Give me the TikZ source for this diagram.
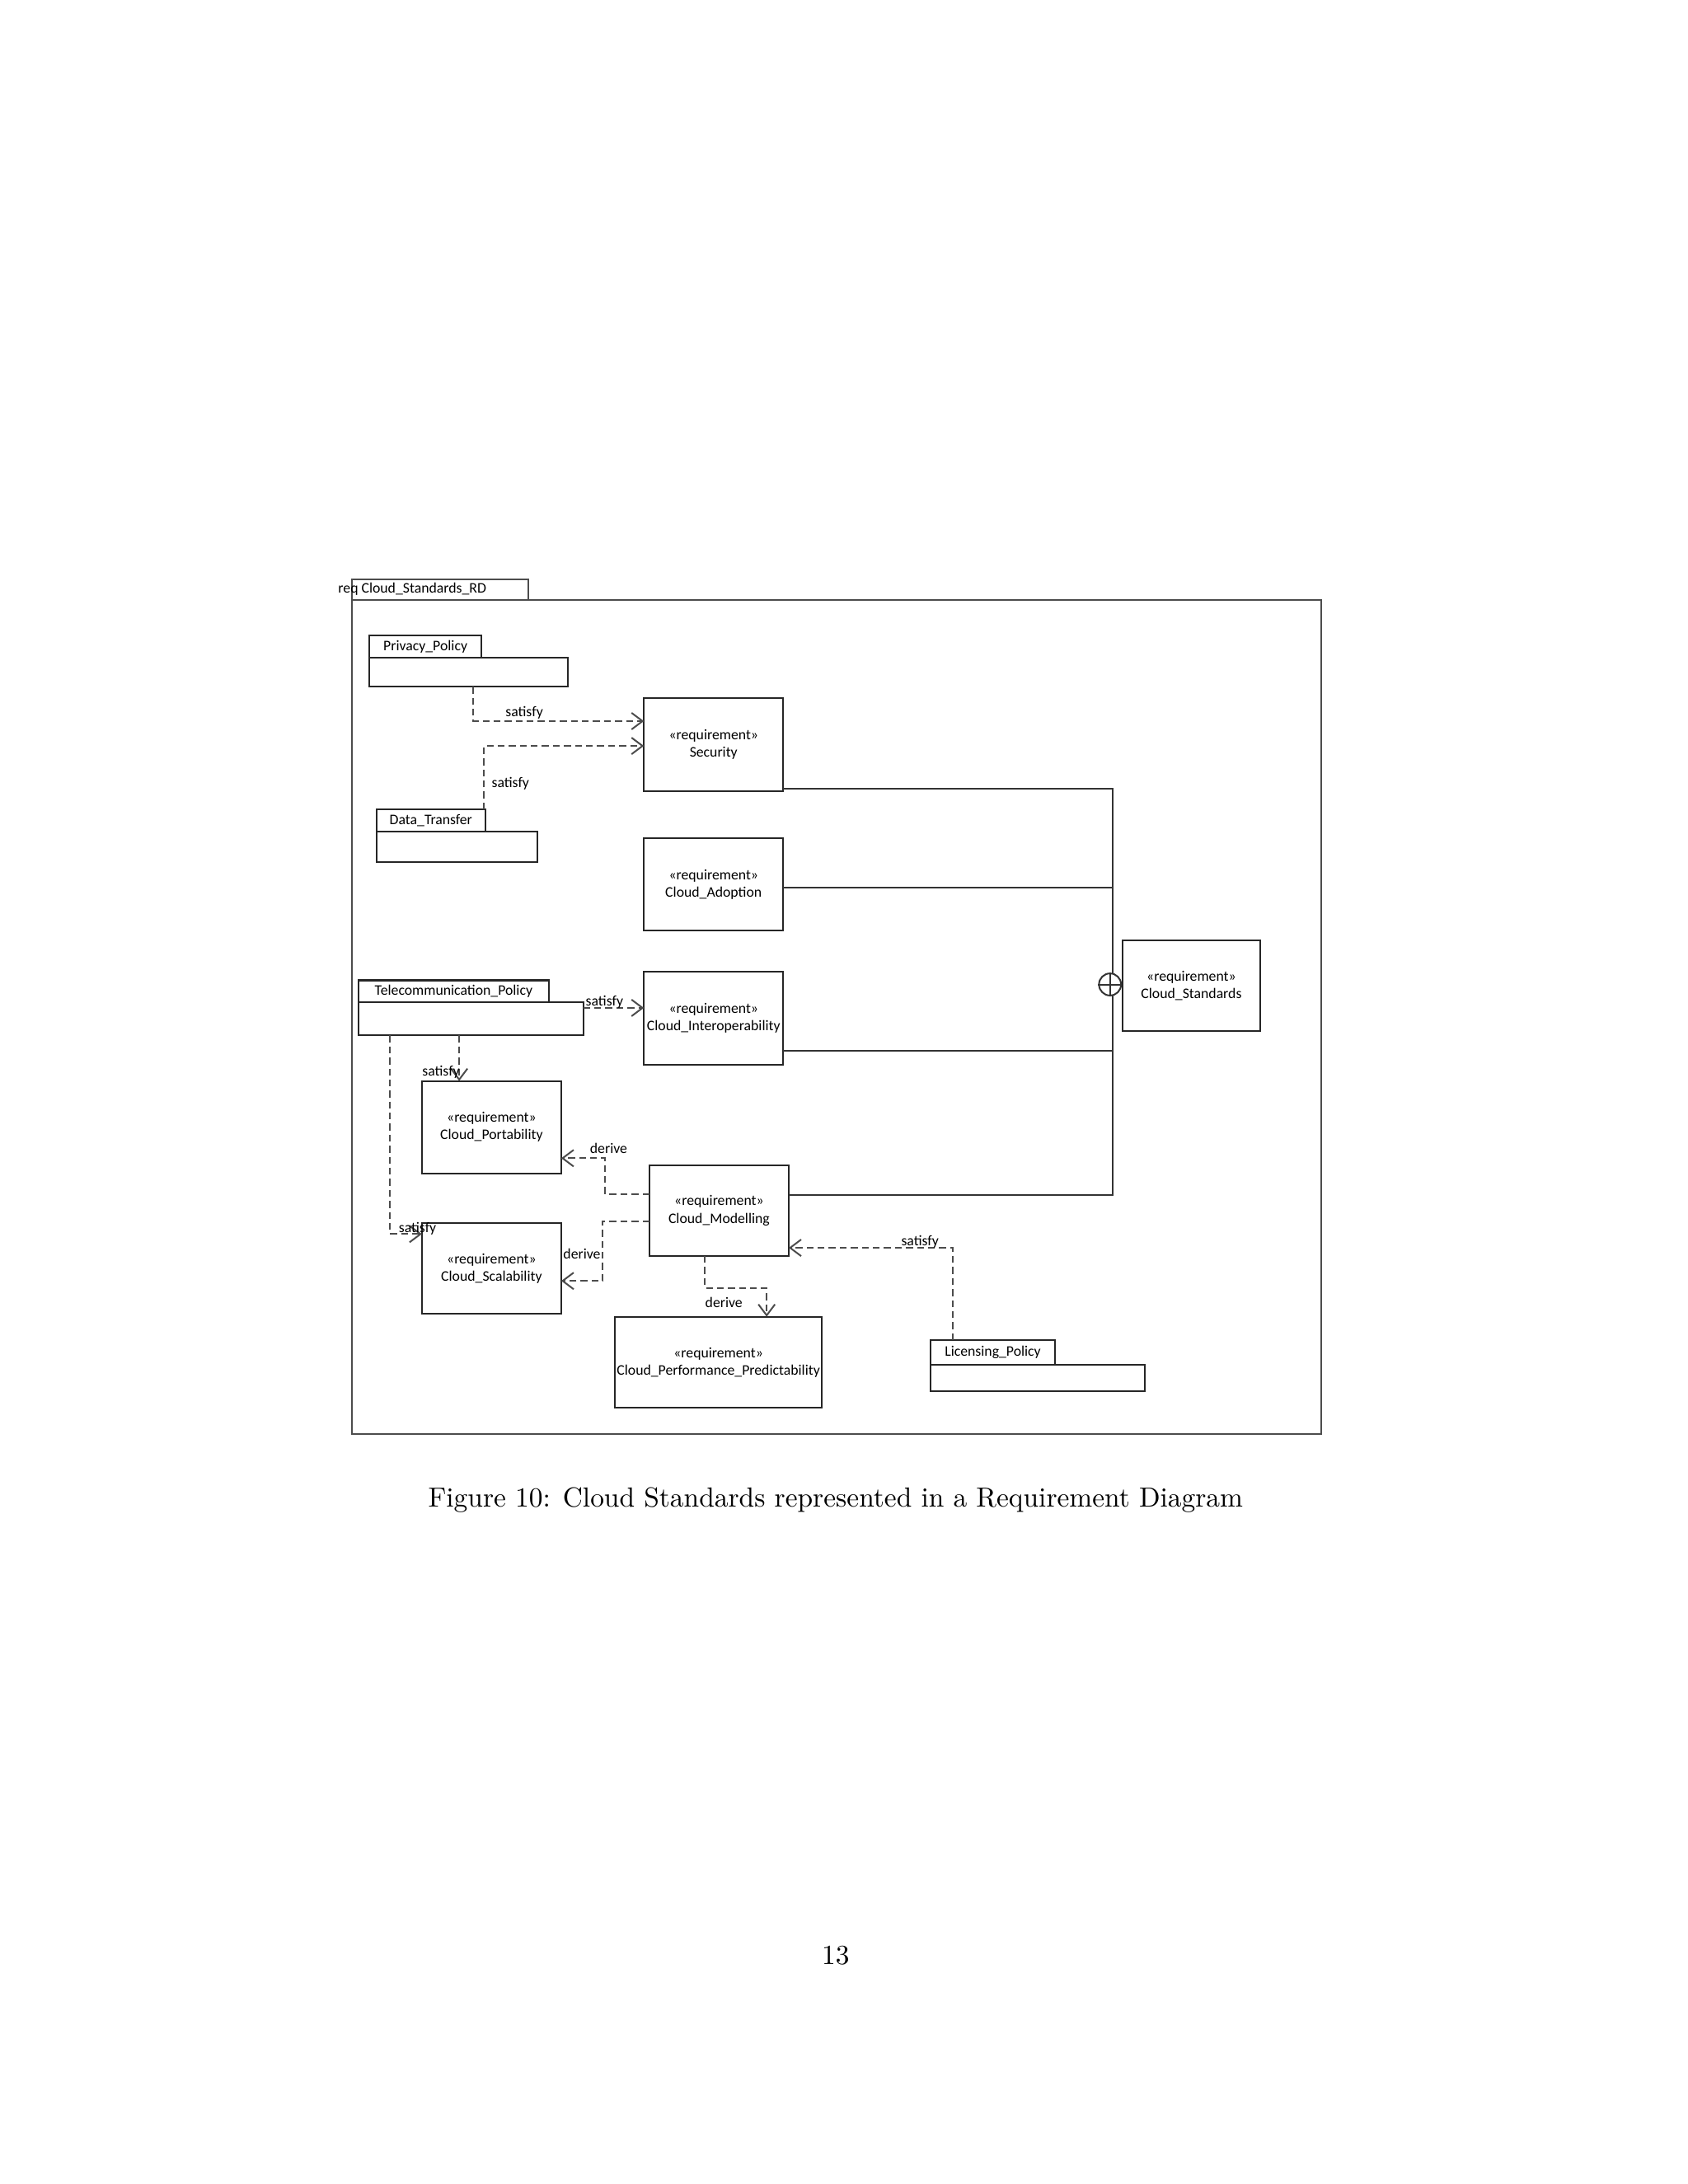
\documentclass[tikz,border=0pt]{standalone}
\usepackage{fontspec}
\newfontfamily\dg{Carlito}
\usetikzlibrary{arrows.meta}
\begin{document}
\begin{tikzpicture}[x=0.5pt,y=-0.5pt,
  box/.style={draw=black!85,line width=0.6pt,inner sep=0,outer sep=0,align=center,font=\dg\fontsize{5.3}{6.3}\selectfont,fill=white},
  dep/.style={draw=black!70,line width=0.6pt,dash pattern=on 2.5pt off 1.5pt,-{Straight Barb[length=4pt,width=6pt,line width=0.6pt]}},
  lbl/.style={font=\dg\fontsize{5.3}{6.3}\selectfont,inner sep=0.5pt},
  bus/.style={draw=black!80,line width=0.6pt}]
\useasboundingbox (0,0) rectangle (1224,1584);
% frame
\node[box,draw=black!70,minimum width=64pt,minimum height=7.5pt,anchor=south west] (ftab) at (255,435) {\hspace*{-20pt}req Cloud\_Standards\_RD};
\node[box,draw=black!70,fill=none,minimum width=351.5pt,minimum height=302.5pt,anchor=north west] (frame) at (255,435) {};
% requirements
\node[box,minimum width=50.5pt,minimum height=34pt] (sec) at (517.5,540) {«requirement»\\Security};
\node[box,minimum width=50.5pt,minimum height=33.5pt] (ado) at (517.5,641.5) {«requirement»\\Cloud\_Adoption};
\node[box,minimum width=50.5pt,minimum height=33.5pt] (int) at (517.5,738.5) {«requirement»\\Cloud\_Interoperability};
\node[box,minimum width=50pt,minimum height=33pt] (std) at (864,715) {«requirement»\\Cloud\_Standards};
\node[box,minimum width=50.5pt,minimum height=33.5pt] (por) at (356.5,817.5) {«requirement»\\Cloud\_Portability};
\node[box,minimum width=50.5pt,minimum height=33pt] (mod) at (521.5,878) {«requirement»\\Cloud\_Modelling};
\node[box,minimum width=50.5pt,minimum height=33pt] (sca) at (356.5,920) {«requirement»\\Cloud\_Scalability};
\node[box,minimum width=75pt,minimum height=33pt] (pp) at (521,988) {«requirement»\\Cloud\_Performance\_Predictability};
% blocks
\node[box,minimum width=40.5pt,minimum height=8pt] (ppt) at (308.5,469) {Privacy\_Policy};
\node[box,minimum width=72pt,minimum height=10.5pt] (ppb) at (340,487.5) {};
\node[box,minimum width=39.5pt,minimum height=8pt] (dtt) at (312.5,595) {Data\_Transfer};
\node[box,minimum width=58.5pt,minimum height=11pt] (dtb) at (331.5,614) {};
\node[box,minimum width=69pt,minimum height=8pt] (tpt) at (329,719) {Telecommunication\_Policy};
\node[box,minimum width=81.5pt,minimum height=12pt] (tpb) at (341.5,739) {};
\node[box,minimum width=45pt,minimum height=9pt] (lpt) at (720,981) {Licensing\_Policy};
\node[box,minimum width=77.5pt,minimum height=9.5pt] (lpb) at (752.5,999.5) {};
% containment bus
\coordinate (bt) at (807,572);
\coordinate (bb) at (807,867);
\draw[bus] (sec.east |- bt) -- (bt) -- (bb) -- (mod.east |- bb);
\draw[bus] (ado.east |- 0,644) -- (807,644);
\draw[bus] (int.east |- 0,762) -- (807,762);
\node[draw=black!80,line width=0.6pt,circle,minimum size=8pt,inner sep=0,fill=white] (cp) at (805,714) {};
\draw[bus] (cp.north) -- (cp.south) (cp.west) -- (cp.east);
% dependencies
\draw[dep] (ppb.south -| 343,0) |- (sec.west |- 0,523) node[lbl,pos=0.65,above] {satisfy};
\draw[dep] (dtt.north -| 351,0) |- (sec.west |- 0,541) node[lbl,pos=0.2,right=2pt] {satisfy};
\draw[dep] (tpb.east |- 0,731) -- (int.west |- 0,731) node[lbl,pos=0.35,above=-1pt] {satisfy};
\draw[dep] (tpb.south -| 333,0) -- (por.north -| 333,0) node[lbl,pos=0.8,left=-1pt] {satisfy};
\draw[dep] (tpb.south -| 283,0) |- (sca.west |- 0,895) node[lbl,pos=0.93,above=-1pt] {satisfy};
\draw[dep] (mod.west |- 0,866) -| (439,840) -- (por.east |- 0,840) node[lbl,pos=0.3,above=1pt,xshift=6pt] {derive};
\draw[dep] (mod.west |- 0,886) -| (437,929) -- (sca.east |- 0,929) node[lbl,pos=0.5,above=7pt] {derive};
\draw[dep] (mod.south -| 511,0) |- (556,934) -- (pp.north -| 556,0) node[lbl,pos=0.5,left=8pt] {derive};
\draw[dep] (lpt.north -| 691,0) |- (mod.east |- 0,905) node[lbl,pos=0.6,above=-1pt] {satisfy};
% caption
\node[font=\fontsize{10}{12}\selectfont] (cap) at (606,1088) {Figure 10: Cloud Standards represented in a Requirement Diagram};
\node[font=\fontsize{10}{12}\selectfont] (pg) at (606,1418) {13};
\end{tikzpicture}
\end{document}
